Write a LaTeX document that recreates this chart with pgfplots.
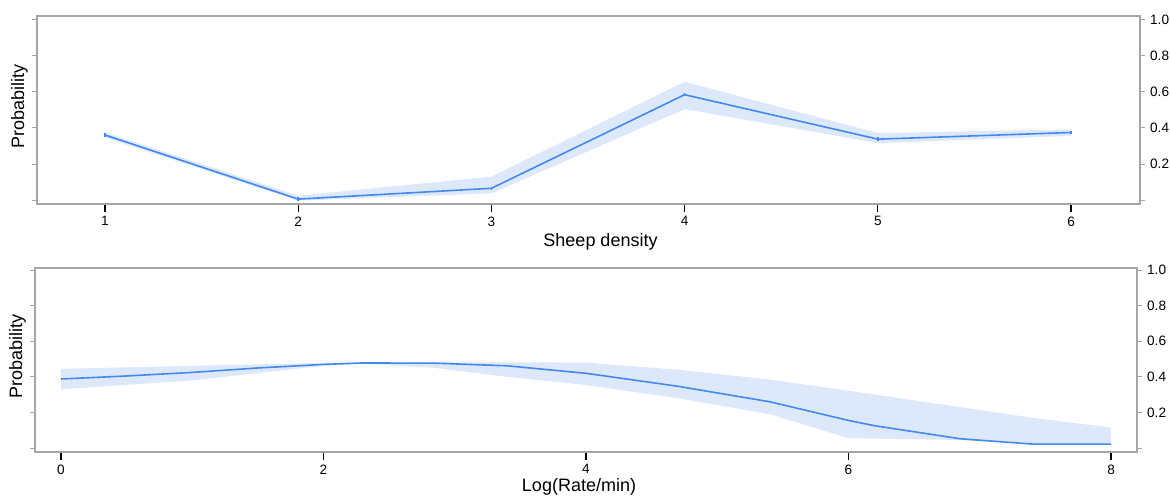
\documentclass[border=0pt]{standalone}
\usepackage{pgfplots}
\pgfplotsset{compat=1.18}
\usepackage{fontspec}
\setmainfont{Liberation Sans}
\definecolor{lineblue}{RGB}{66,137,240}
\definecolor{bandblue}{RGB}{221,232,251}
\definecolor{framegray}{RGB}{165,165,165}

\pgfplotstableread{
x y
1 0.361
2 0.005
3 0.065
4 0.585
5 0.338
6 0.375
}\topline
\pgfplotstableread{
x y
1 0.376
2 0.024
3 0.130
4 0.657
5 0.372
6 0.392
6 0.356
5 0.316
4 0.505
3 0.037
2 -0.004
1 0.346
}\topband
\pgfplotstableread{
x y
0 0.388
0.5 0.405
1 0.425
1.5 0.450
2 0.470
2.3 0.478
2.85 0.477
3.4 0.462
4 0.420
4.7 0.347
5.4 0.260
6 0.155
6.2 0.125
6.85 0.052
7.4 0.022
8 0.022
}\botline
\pgfplotstableread{
x y
0 0.445
1 0.462
2 0.478
2.3 0.481
2.85 0.482
3.4 0.482
4 0.480
4.7 0.440
5.4 0.385
6 0.322
6.85 0.230
7.4 0.170
8 0.115
8 0.022
7.4 0.022
6.85 0.045
6 0.055
5.4 0.190
4.7 0.280
4 0.354
3.4 0.400
2.85 0.450
2.3 0.474
2 0.462
1 0.380
0 0.330
}\botband

\pgfplotsset{
 myaxis/.style={
  scale only axis,
  anchor=south west,
  axis line style={framegray, line width=0.6pt},
  tick align=outside,
  xtick pos=left,
  ytick pos=both,
  yticklabel pos=right,
  ytick={0,0.2,0.4,0.6,0.8,1.0},
  yticklabels={,0.2,0.4,0.6,0.8,1.0},
  xtick style={black, line width=0.6pt, /pgfplots/major tick length=4pt},
  ytick style={framegray, line width=0.5pt, /pgfplots/major tick length=2.5pt},
  /pgf/number format/assume math mode=true,
  ticklabel style={font=\fontsize{6.8}{8}\selectfont},
  xticklabel style={yshift=1.5pt},
  yticklabel style={inner sep=0.6pt},
  label style={font=\fontsize{9}{11}\selectfont},
  ylabel style={at={(axis description cs:-0.008,0.52)}, anchor=south, inner sep=0pt},
  clip=false,
 }
}

\begin{document}
\begin{tikzpicture}
\path[use as bounding box] (0,0) rectangle (585pt,-248pt);
\begin{axis}[myaxis, at={(18.5pt,-102pt)}, width=551.5pt, height=94pt,
  xmin=0.648, xmax=6.357, ymin=-0.0222, ymax=1.0222,
  xlabel style={yshift=3.5pt, xshift=6pt},
  xtick={1,2,3,4,5,6}, xlabel={Sheep density}, ylabel={Probability}]
\addplot[fill=bandblue, draw=none, forget plot] table {\topband} -- cycle;
\addplot[lineblue, line width=0.8pt, mark=|, mark size=0.9pt] table {\topline};
\end{axis}
\begin{axis}[myaxis, at={(17.5pt,-226pt)}, width=551pt, height=92pt,
  xmin=-0.198, xmax=8.198, ymin=-0.0225, ymax=1.012,
  xlabel style={yshift=5pt, xshift=-3.5pt},
  xtick={0,2,4,6,8}, xlabel={Log(Rate/min)}, ylabel={Probability}]
\addplot[fill=bandblue, draw=none, forget plot] table {\botband} -- cycle;
\addplot[lineblue, line width=0.8pt, no marks] table {\botline};
\end{axis}
\end{tikzpicture}
\end{document}
